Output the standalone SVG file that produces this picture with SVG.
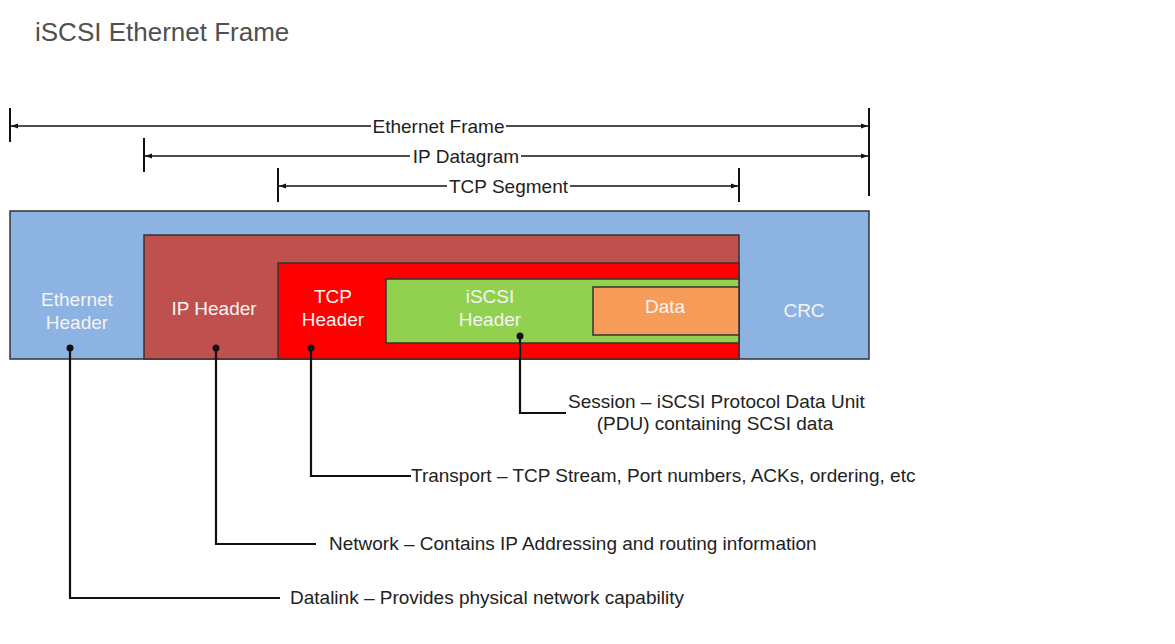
<svg xmlns="http://www.w3.org/2000/svg" width="1175" height="644" viewBox="0 0 1175 644">
<style>
.t{font-family:"Liberation Sans",Arial,sans-serif;}
.title{font-size:26px;fill:#505050;}
.dim{font-size:19px;fill:#222;}
.box{stroke:#333;stroke-width:1.5;}
.bt{font-size:19px;fill:#f4f4f4;text-anchor:middle;}
.lbl{font-size:19px;fill:#222;}
.ln{stroke:#111;stroke-width:1.6;fill:none;}
.tick{stroke:#111;stroke-width:2;}
.cn{stroke:#111;stroke-width:2.2;fill:none;}
</style>
<defs>
<marker id="ah" viewBox="0 0 10 10" refX="10" refY="5" markerWidth="7" markerHeight="7" orient="auto-start-reverse" markerUnits="userSpaceOnUse">
<path d="M0,1.5 L10,5 L0,8.5 z" fill="#111"/>
</marker>
</defs>
<rect width="1175" height="644" fill="#fff"/>
<text class="t title" x="35" y="41">iSCSI Ethernet Frame</text>

<g id="dimensions">
<line class="tick" x1="10" y1="108" x2="10" y2="142"/>
<line class="tick" x1="869" y1="108" x2="869" y2="196"/>
<line class="tick" x1="144" y1="138" x2="144" y2="172"/>
<line class="tick" x1="278" y1="168" x2="278" y2="202"/>
<line class="tick" x1="739" y1="168" x2="739" y2="202"/>
<line class="ln" x1="371" y1="126" x2="11" y2="126" marker-end="url(#ah)"/>
<line class="ln" x1="506" y1="126" x2="868" y2="126" marker-end="url(#ah)"/>
<text class="t dim" x="438.5" y="133" text-anchor="middle">Ethernet Frame</text>
<line class="ln" x1="410" y1="156" x2="145" y2="156" marker-end="url(#ah)"/>
<line class="ln" x1="521" y1="156" x2="868" y2="156" marker-end="url(#ah)"/>
<text class="t dim" x="466" y="163" text-anchor="middle">IP Datagram</text>
<line class="ln" x1="447" y1="186" x2="279" y2="186" marker-end="url(#ah)"/>
<line class="ln" x1="570" y1="186" x2="738" y2="186" marker-end="url(#ah)"/>
<text class="t dim" x="508.5" y="193" text-anchor="middle">TCP Segment</text>
</g>

<g id="ethernet">
<rect class="box" x="10" y="211" width="859" height="148" fill="#8db3e2"/>
<text class="t bt" x="77" y="306">Ethernet</text>
<text class="t bt" x="77" y="329">Header</text>
<text class="t bt" x="804" y="317">CRC</text>
</g>
<g id="ip">
<rect class="box" x="144" y="235" width="595" height="124" fill="#c0504d"/>
<text class="t bt" x="214" y="315">IP Header</text>
</g>
<g id="tcp">
<rect class="box" x="278" y="263" width="461" height="96" fill="#ff0000"/>
<text class="t bt" x="333" y="303">TCP</text>
<text class="t bt" x="333" y="326">Header</text>
</g>
<g id="iscsi">
<rect class="box" x="386" y="279" width="353" height="64" fill="#92d050"/>
<text class="t bt" x="490" y="303">iSCSI</text>
<text class="t bt" x="490" y="326">Header</text>
</g>
<g id="data">
<rect class="box" x="593" y="287" width="146" height="48" fill="#f79c58"/>
<text class="t bt" x="665" y="313">Data</text>
</g>

<g id="connectors">
<circle cx="70" cy="348" r="3.5" fill="#111"/>
<polyline class="cn" points="70,348 70,598 280,598"/>
<circle cx="216" cy="348" r="3.5" fill="#111"/>
<polyline class="cn" points="216,348 216,544 316,544"/>
<circle cx="311" cy="348" r="3.5" fill="#111"/>
<polyline class="cn" points="311,348 311,476 411,476"/>
<circle cx="520" cy="336" r="3.5" fill="#111"/>
<polyline class="cn" points="520,336 520,413 566,413"/>
</g>

<g id="labels">
<text class="t lbl" x="568" y="408">Session – iSCSI Protocol Data Unit</text>
<text class="t lbl" x="715" y="430" text-anchor="middle">(PDU) containing SCSI data</text>
<text class="t lbl" x="411" y="482">Transport – TCP Stream, Port numbers, ACKs, ordering, etc</text>
<text class="t lbl" x="329" y="550">Network – Contains IP Addressing and routing information</text>
<text class="t lbl" x="290" y="604">Datalink – Provides physical network capability</text>
</g>
</svg>
